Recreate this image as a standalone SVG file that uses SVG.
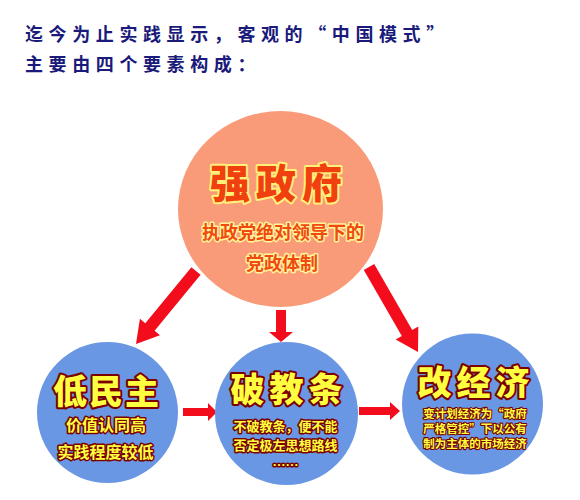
<svg xmlns="http://www.w3.org/2000/svg" width="580" height="500" viewBox="0 0 580 500">
<style>
text{font-family:"Noto Sans CJK SC","Noto Sans",sans-serif;}
.title{fill:#1A1A7A;font-size:18px;font-weight:bold;letter-spacing:5.6px;}
.topmain{fill:#F0400F;stroke:#FFF07A;stroke-width:4px;paint-order:stroke;stroke-linejoin:round;font-size:40px;font-weight:900;letter-spacing:6px;}
.topsub{fill:#F04A10;stroke:#FFF49A;stroke-width:3px;paint-order:stroke;stroke-linejoin:round;font-size:18px;font-weight:bold;}
.main{fill:#FFFF40;stroke:#7A0000;stroke-width:4px;paint-order:stroke;stroke-linejoin:round;font-size:34px;font-weight:900;text-anchor:middle;}
.sub{fill:#FFFF40;stroke:#7A0000;stroke-width:3px;paint-order:stroke;stroke-linejoin:round;font-weight:bold;text-anchor:middle;}
.small{font-size:11.5px;stroke-width:2.2px;}
.blue{fill:#6A97E3;}
.arrow{fill:#F20C1C;}
</style>
<g id="title">
<text class="title" x="25" y="41">迄今为止实践显示，客观的“中国模式”</text>
<text class="title" x="25" y="71">主要由四个要素构成：</text>
</g>
<g id="connectors">
<polygon class="arrow" points="200.6,274.8 154.6,330.8 160.0,335.3 136,344 139.9,318.7 145.3,323.2 191.4,267.2"/>
<polygon class="arrow" points="276,310 286,310 286,332 293,332 281,342 269,332 276,332"/>
<polygon class="arrow" points="374.2,264.0 412.2,329.9 418.3,326.4 418,352 395.7,339.4 401.8,335.9 363.8,270.0"/>
<polygon class="arrow" points="183,408 208,408 208,403 217,412 208,421 208,416 183,416"/>
<polygon class="arrow" points="359,407 390,407 390,402 400,411 390,420 390,415 359,415"/>
</g>
<g id="node-strong-government">
<ellipse cx="280.5" cy="209" rx="102.5" ry="98" fill="#F99B79"/>
<text class="topmain" x="210" y="198">强政府</text>
<text class="topsub" x="202" y="239">执政党绝对领导下的</text>
<text class="topsub" x="282" y="270" text-anchor="middle">党政体制</text>
</g>
<g id="node-low-democracy">
<circle class="blue" cx="107.5" cy="412.5" r="70.5"/>
<text class="main" x="107" y="404" letter-spacing="2">低民主</text>
<text class="sub" x="106" y="431" font-size="16">价值认同高</text>
<text class="sub" x="105.5" y="458" font-size="16">实践程度较低</text>
</g>
<g id="node-break-dogma">
<circle class="blue" cx="286.5" cy="413.5" r="71.5"/>
<text class="main" x="289" y="402" letter-spacing="5">破教条</text>
<text class="sub" x="285.5" y="431" font-size="13">不破教条，便不能</text>
<text class="sub" x="285.5" y="450" font-size="13">否定极左思想路线</text>
<text class="sub" x="285.5" y="470" font-size="13">……</text>
</g>
<g id="node-reform-economy">
<circle class="blue" cx="472.5" cy="404" r="70.5"/>
<text class="main" x="476" y="395" font-size="32" letter-spacing="5">改经济</text>
<text class="sub small" x="475" y="418">变计划经济为“政府</text>
<text class="sub small" x="475" y="433">严格管控”下以公有</text>
<text class="sub small" x="475" y="448">制为主体的市场经济</text>
</g>
</svg>
